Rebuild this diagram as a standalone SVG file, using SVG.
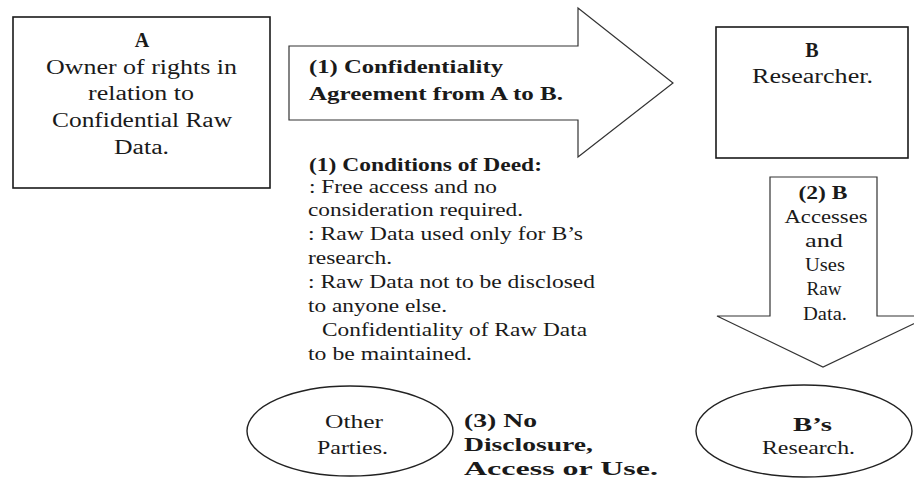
<svg xmlns="http://www.w3.org/2000/svg" width="914" height="480" viewBox="0 0 914 480" font-family="'Liberation Serif', 'DejaVu Serif', serif">
<style>
text{font-family:'Liberation Serif','DejaVu Serif',serif;font-size:19px;fill:#1a1a1a}
.b{font-weight:bold}
.m{text-anchor:middle}
.big{font-size:20px}
.box{fill:#fff;stroke:#1a1a1a;stroke-width:1.6}
.arr{fill:#fff;stroke:#333;stroke-width:1.2}
.ell{fill:#fff;stroke:#222;stroke-width:1.4}
</style>
<rect width="914" height="480" fill="#fff"/>
<g id="connectors">
  <g id="arrow-confidentiality">
    <polygon class="arr" points="289,46 578,46 578,8 673,83 578,157 578,120 289,120"/>
    <text class="b" x="309" y="73" textLength="194" lengthAdjust="spacingAndGlyphs">(1) Confidentiality</text>
    <text class="b" x="309" y="100" textLength="254" lengthAdjust="spacingAndGlyphs">Agreement from A to B.</text>
  </g>
  <g id="arrow-access">
    <polygon class="arr" points="770,177 877,177 877,316 930,316 823,367 717,316 770,316"/>
    <text class="b m" x="823" y="199" textLength="49" lengthAdjust="spacingAndGlyphs">(2) B</text>
    <text class="m" x="826" y="223" textLength="83" lengthAdjust="spacingAndGlyphs">Accesses</text>
    <text class="m" x="824" y="247" textLength="38" lengthAdjust="spacingAndGlyphs">and</text>
    <text class="m" x="825" y="271" textLength="40" lengthAdjust="spacingAndGlyphs">Uses</text>
    <text class="m" x="824" y="295" textLength="35" lengthAdjust="spacingAndGlyphs">Raw</text>
    <text class="m" x="825" y="320" textLength="44" lengthAdjust="spacingAndGlyphs">Data.</text>
  </g>
</g>
<g id="node-A">
  <rect class="box" x="13" y="17" width="257" height="171"/>
  <text class="b m big" x="142" y="47">A</text>
  <text class="m big" x="141.5" y="74" textLength="191" lengthAdjust="spacingAndGlyphs">Owner of rights in</text>
  <text class="m big" x="141" y="100" textLength="106" lengthAdjust="spacingAndGlyphs">relation to</text>
  <text class="m big" x="142" y="127" textLength="180" lengthAdjust="spacingAndGlyphs">Confidential Raw</text>
  <text class="m big" x="141.5" y="154" textLength="55" lengthAdjust="spacingAndGlyphs">Data.</text>
</g>
<g id="node-B">
  <rect class="box" x="716" y="27" width="192" height="131"/>
  <text class="b m big" x="812" y="57">B</text>
  <text class="m big" x="812.5" y="83" textLength="121" lengthAdjust="spacingAndGlyphs">Researcher.</text>
</g>
<g id="conditions">
  <text class="b" x="309" y="171" textLength="233" lengthAdjust="spacingAndGlyphs">(1) Conditions of Deed:</text>
  <text x="309" y="193" textLength="188" lengthAdjust="spacingAndGlyphs">: Free access and no</text>
  <text x="308" y="216" textLength="215" lengthAdjust="spacingAndGlyphs">consideration required.</text>
  <text x="308" y="240" textLength="275" lengthAdjust="spacingAndGlyphs">: Raw Data used only for B’s</text>
  <text x="308" y="264" textLength="84" lengthAdjust="spacingAndGlyphs">research.</text>
  <text x="308" y="288" textLength="287" lengthAdjust="spacingAndGlyphs">: Raw Data not to be disclosed</text>
  <text x="308" y="312" textLength="139" lengthAdjust="spacingAndGlyphs">to anyone else.</text>
  <text x="322" y="336" textLength="265" lengthAdjust="spacingAndGlyphs">Confidentiality of Raw Data</text>
  <text x="308" y="360" textLength="164" lengthAdjust="spacingAndGlyphs">to be maintained.</text>
</g>
<g id="node-other-parties">
  <ellipse class="ell" cx="350" cy="431" rx="103" ry="45"/>
  <text class="m" x="354" y="428" textLength="58" lengthAdjust="spacingAndGlyphs">Other</text>
  <text class="m" x="352.5" y="454" textLength="71" lengthAdjust="spacingAndGlyphs">Parties.</text>
</g>
<g id="no-disclosure">
  <text class="b" x="464" y="427" textLength="73" lengthAdjust="spacingAndGlyphs">(3) No</text>
  <text class="b" x="464" y="451" textLength="129" lengthAdjust="spacingAndGlyphs">Disclosure,</text>
  <text class="b" x="464" y="475" textLength="194" lengthAdjust="spacingAndGlyphs">Access or Use.</text>
</g>
<g id="node-B-research">
  <ellipse class="ell" cx="804" cy="431" rx="108" ry="46"/>
  <text class="b m" x="812.5" y="431" textLength="39" lengthAdjust="spacingAndGlyphs">B’s</text>
  <text class="m" x="808.5" y="454" textLength="93" lengthAdjust="spacingAndGlyphs">Research.</text>
</g>
</svg>
